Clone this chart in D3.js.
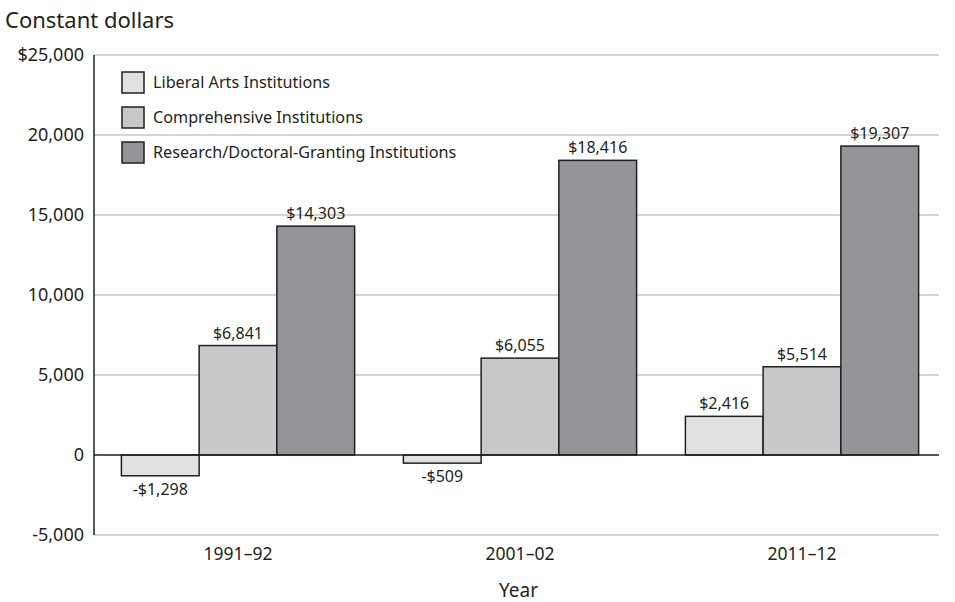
<!DOCTYPE html>
<html>
<head>
<meta charset="utf-8">
<script src="https://cdn.jsdelivr.net/npm/d3@7"></script>
<style>
  body { margin: 0; background: #fff; }
  text { font-family: "Noto Sans", sans-serif; fill: #231f20; }
</style>
</head>
<body>
<script>
// chart data
var years = ['1991–92', '2001–02', '2011–12'];
var series = ['Liberal Arts Institutions', 'Comprehensive Institutions', 'Research/Doctoral-Granting Institutions'];
var liberalArts = [-1298, -509, 2416];
var comprehensive = [6841, 6055, 5514];
var research = [14303, 18416, 19307];
var yTicks = [-5000, 0, 5000, 10000, 15000, 20000, 25000];
var colors = ['#e0e1e3', '#c7c8ca', '#939598'];

var values = [liberalArts, comprehensive, research];

var width = 955, height = 602;
var plotLeft = 94, plotRight = 939, plotTop = 55, plotBottom = 535;

var svg = d3.select('body').append('svg')
  .attr('width', width)
  .attr('height', height);

var y = d3.scaleLinear().domain([-5000, 25000]).range([plotBottom, plotTop]);

var x0 = d3.scaleBand().domain(years).range([97, 943])
  .paddingInner(0.173).paddingOuter(0.0865);

var x1 = d3.scaleBand().domain(d3.range(series.length)).range([0, x0.bandwidth()]);

// gridlines
svg.append('g').selectAll('line')
  .data(yTicks.filter(function(d) { return d !== 0; }))
  .enter().append('line')
  .attr('x1', plotLeft).attr('x2', plotRight)
  .attr('y1', function(d) { return y(d); })
  .attr('y2', function(d) { return y(d); })
  .attr('stroke', '#a7a9ac')
  .attr('stroke-width', 1.2);

// y tick labels (plain hyphen for negatives, like the original)
var fmt = function(v) { return d3.format(',')(v).replace('−', '-'); };
svg.append('g').selectAll('text')
  .data(yTicks)
  .enter().append('text')
  .attr('x', 84)
  .attr('y', function(d) { return y(d) + 6; })
  .attr('text-anchor', 'end')
  .attr('font-size', 18)
  .text(function(d) { return d === 25000 ? '$' + fmt(d) : fmt(d); });

// bars
var groups = svg.append('g').selectAll('g')
  .data(years)
  .enter().append('g')
  .attr('transform', function(d) { return 'translate(' + x0(d) + ',0)'; });

groups.selectAll('rect')
  .data(function(d, i) { return values.map(function(v, s) { return {s: s, v: v[i]}; }); })
  .enter().append('rect')
  .attr('x', function(d) { return x1(d.s); })
  .attr('width', x1.bandwidth())
  .attr('y', function(d) { return y(Math.max(0, d.v)); })
  .attr('height', function(d) { return Math.abs(y(d.v) - y(0)); })
  .attr('fill', function(d) { return colors[d.s]; })
  .attr('stroke', '#231f20')
  .attr('stroke-width', 1.5);

groups.selectAll('text')
  .data(function(d, i) { return values.map(function(v, s) { return {s: s, v: v[i]}; }); })
  .enter().append('text')
  .attr('x', function(d) { return x1(d.s) + x1.bandwidth() / 2; })
  .attr('y', function(d) { return d.v >= 0 ? y(d.v) - 7 : y(d.v) + 19; })
  .attr('text-anchor', 'middle')
  .attr('font-size', 16)
  .text(function(d) { return (d.v < 0 ? '-$' : '$') + fmt(Math.abs(d.v)); });

// zero line and axis
svg.append('line')
  .attr('x1', plotLeft).attr('x2', plotRight)
  .attr('y1', y(0)).attr('y2', y(0))
  .attr('stroke', '#231f20').attr('stroke-width', 1.5);

svg.append('line')
  .attr('x1', plotLeft).attr('x2', plotLeft)
  .attr('y1', plotTop).attr('y2', plotBottom)
  .attr('stroke', '#231f20').attr('stroke-width', 1.5);

// x labels
svg.append('g').selectAll('text')
  .data(years)
  .enter().append('text')
  .attr('x', function(d) { return x0(d) + x0.bandwidth() / 2; })
  .attr('y', 560)
  .attr('text-anchor', 'middle')
  .attr('font-size', 17.5)
  .text(function(d) { return d; });

svg.append('text')
  .attr('x', (plotLeft + plotRight) / 2 + 2)
  .attr('y', 597)
  .attr('text-anchor', 'middle')
  .attr('font-size', 19)
  .text('Year');

svg.append('text')
  .attr('x', 5)
  .attr('y', 28)
  .attr('font-size', 22)
  .text('Constant dollars');

// legend
var legend = svg.append('g').selectAll('g')
  .data(series)
  .enter().append('g')
  .attr('transform', function(d, i) { return 'translate(122,' + (72 + i * 35) + ')'; });

legend.append('rect')
  .attr('width', 22).attr('height', 21)
  .attr('fill', function(d, i) { return colors[i]; })
  .attr('stroke', '#231f20')
  .attr('stroke-width', 1.5);

legend.append('text')
  .attr('x', 31)
  .attr('y', 16)
  .attr('font-size', 16.2)
  .text(function(d) { return d; });
</script>
</body>
</html>
